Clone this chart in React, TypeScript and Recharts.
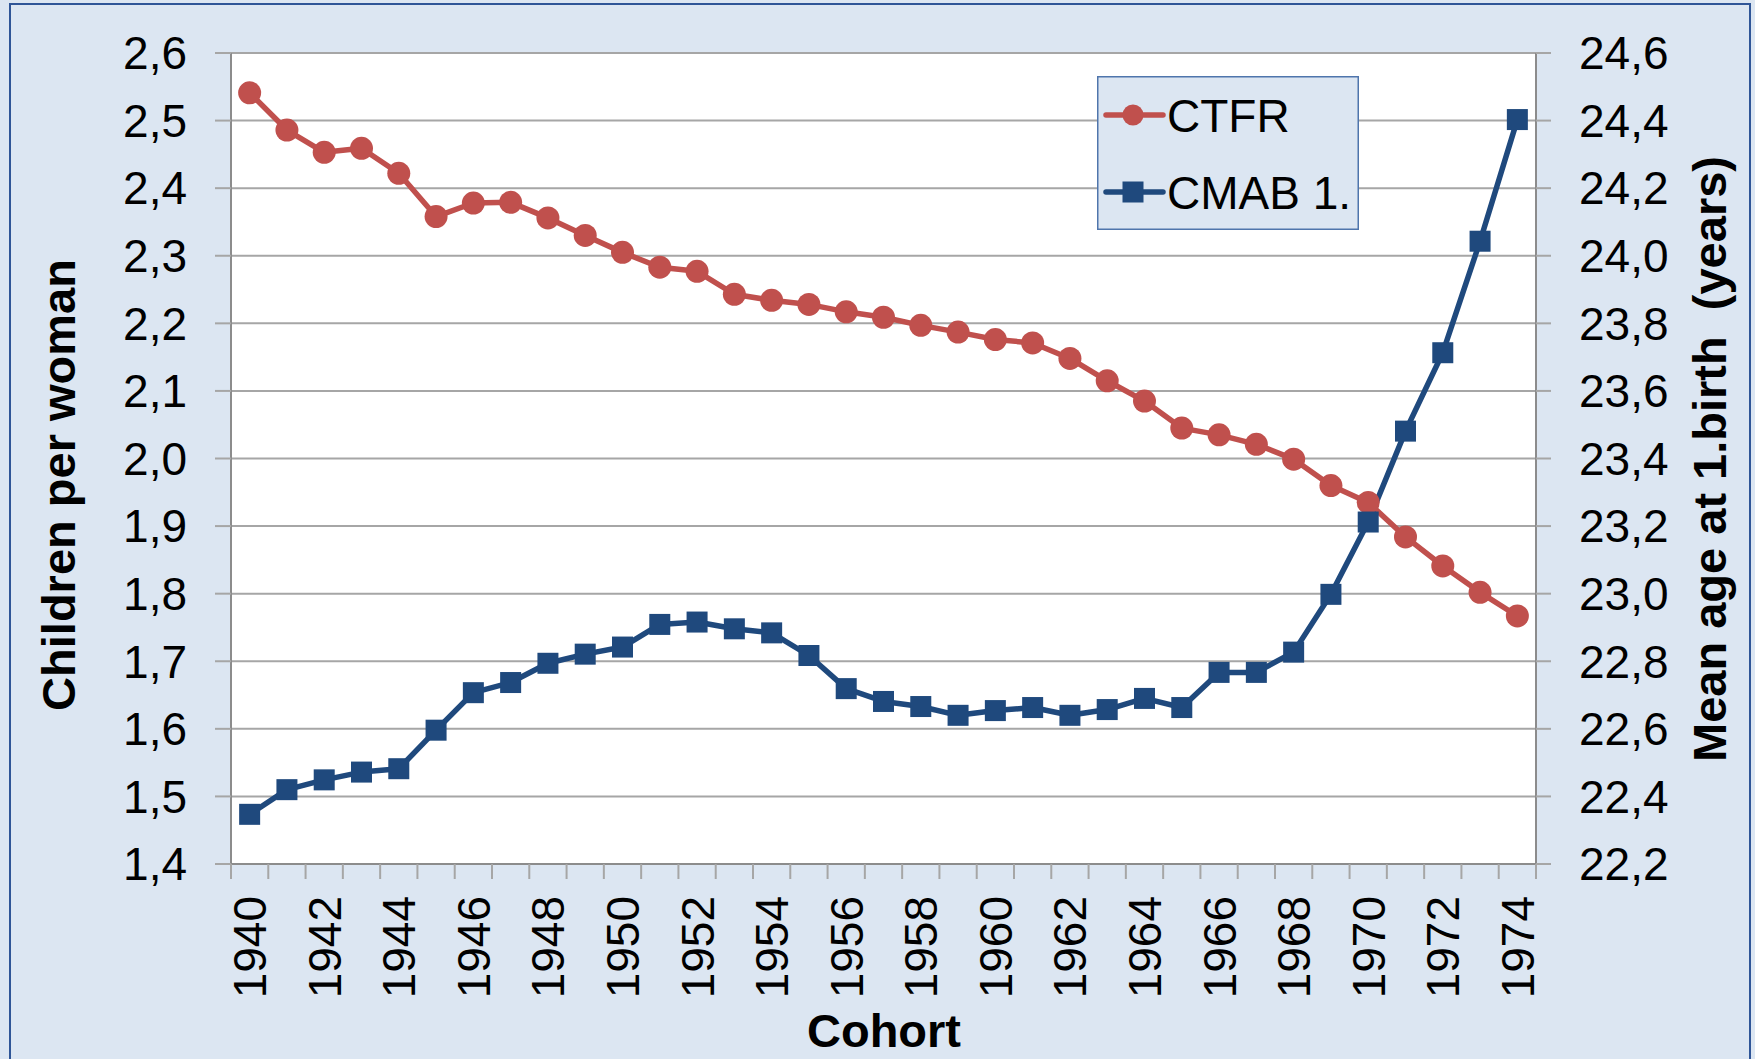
import React from 'react';
import { LineChart, Line, XAxis, YAxis, CartesianGrid, Legend, Label } from 'recharts';

const years = [1940, 1941, 1942, 1943, 1944, 1945, 1946, 1947, 1948, 1949, 1950, 1951, 1952, 1953, 1954, 1955, 1956, 1957, 1958, 1959, 1960, 1961, 1962, 1963, 1964, 1965, 1966, 1967, 1968, 1969, 1970, 1971, 1972, 1973, 1974];

const ctfr = [2.541, 2.486, 2.453, 2.459, 2.422, 2.358, 2.378, 2.379, 2.356, 2.330, 2.305, 2.283, 2.277, 2.243, 2.234, 2.228, 2.217, 2.209, 2.197, 2.187, 2.176, 2.171, 2.148, 2.115, 2.085, 2.045, 2.035, 2.021, 1.999, 1.960, 1.935, 1.884, 1.841, 1.802, 1.767];

const cmab = [22.347, 22.420, 22.449, 22.472, 22.482, 22.596, 22.707, 22.737, 22.794, 22.821, 22.842, 22.909, 22.916, 22.896, 22.884, 22.817, 22.719, 22.681, 22.666, 22.640, 22.654, 22.663, 22.640, 22.657, 22.690, 22.663, 22.767, 22.767, 22.827, 22.998, 23.212, 23.481, 23.713, 24.043, 24.403];

const leftTicks = [1.4, 1.5, 1.6, 1.7, 1.8, 1.9, 2.0, 2.1, 2.2, 2.3, 2.4, 2.5, 2.6];
const rightTicks = [22.2, 22.4, 22.6, 22.8, 23.0, 23.2, 23.4, 23.6, 23.8, 24.0, 24.2, 24.4, 24.6];

const seriesOrder = ['ctfr', 'cmab'];
const seriesNames = { ctfr: 'CTFR', cmab: 'CMAB 1.' };
const titles = { left: 'Children per woman', right: 'Mean age at 1.birth  (years)', x: 'Cohort' };

const data = years.map((y, i) => ({ year: y, ctfr: ctfr[i], cmab: cmab[i] }));

const boundaryTicks = years.map((y) => y - 0.5).concat([years[years.length - 1] + 0.5]);
const labelTicks = years.filter((y) => y % 2 === 0);
const xTicks = [...boundaryTicks, ...labelTicks].sort((a, b) => a - b);

const FONT = '"Liberation Sans", Arial, sans-serif';
const RED = '#C0504D';
const BLUE = '#1F497D';
const GRID = '#A6A6A6';
const AXIS = '#8C8C8C';
const BG = '#DCE6F2';

const fmt = (v: number) => v.toFixed(1).replace('.', ',');

const XTick = (props: any) => {
  const { x, y, payload } = props;
  const v = payload.value as number;
  if (v % 1 !== 0) {
    return <line x1={x} x2={x} y1={y} y2={y + 15} stroke={GRID} strokeWidth={2} />;
  }
  if (v % 2 === 0) {
    const tx = x + 16.5;
    const ty = y + 32;
    return (
      <text x={tx} y={ty} transform={`rotate(-90 ${tx} ${ty})`} textAnchor="end" fontSize={46} fontFamily={FONT} fill="#000">
        {v}
      </text>
    );
  }
  return null;
};

const SquareDot = (props: any) => {
  const { cx, cy, index } = props;
  if (cx == null || cy == null) return <g key={`sq-${index}`} />;
  return <rect key={`sq-${index}`} x={cx - 10.5} y={cy - 10.5} width={21} height={21} fill={BLUE} />;
};

const renderLegend = (props: any) => {
  const payload = [...(props.payload || [])].sort(
    (a: any, b: any) => seriesOrder.indexOf(a.dataKey) - seriesOrder.indexOf(b.dataKey)
  );
  return (
    <svg width={262} height={154} style={{ display: 'block' }}>
      <rect x={0.75} y={0.75} width={260.5} height={152.5} fill={BG} stroke="#4F75AC" strokeWidth={1.5} />
      {payload.map((entry: any, i: number) => {
        const cy = 39 + i * 77;
        const isCircle = entry.dataKey === 'ctfr';
        const color = entry.color;
        return (
          <g key={entry.dataKey}>
            <line x1={9} x2={66} y1={cy} y2={cy} stroke={color} strokeWidth={5.5} strokeLinecap="round" />
            {isCircle ? (
              <circle cx={36} cy={cy} r={10.5} fill={color} />
            ) : (
              <rect x={25.5} y={cy - 10.5} width={21} height={21} fill={color} />
            )}
            <text x={70} y={cy + 16.5} fontSize={46} fontFamily={FONT} fill="#000">
              {entry.value}
            </text>
          </g>
        );
      })}
    </svg>
  );
};

export default function App() {
  return (
    <div style={{ position: 'absolute', left: 0, top: 0, width: 1755, height: 1059, background: BG, overflow: 'hidden', fontFamily: FONT }}>
      <div style={{ position: 'absolute', left: 9, top: 3, width: 1742, height: 1080, border: '2px solid #2F5597', boxSizing: 'border-box' }} />
      <div style={{ position: 'absolute', left: 0, top: 0 }}>
        <LineChart width={1755} height={1059} data={data} margin={{ top: 53, right: 0, bottom: 0, left: 0 }}>
          <CartesianGrid yAxisId="left" vertical={false} stroke={GRID} strokeWidth={2} fill="#FFFFFF" fillOpacity={1} />
          <XAxis
            dataKey="year"
            type="number"
            domain={[1939.5, 1974.5]}
            ticks={xTicks}
            interval={0}
            height={195}
            tickSize={0}
            tickMargin={0}
            tickLine={false}
            axisLine={{ stroke: AXIS, strokeWidth: 2 }}
            tick={<XTick />}
          >
            <Label
              content={() => (
                <text x={884} y={1047} textAnchor="middle" fontSize={47} fontWeight="bold" fontFamily={FONT} fill="#000">
                  {titles.x}
                </text>
              )}
            />
          </XAxis>
          <YAxis
            yAxisId="left"
            orientation="left"
            domain={[1.4, 2.6]}
            ticks={leftTicks}
            interval={0}
            width={231}
            tickSize={16}
            tickMargin={28}
            tickFormatter={fmt}
            tick={{ fontSize: 46, fill: '#000', fontFamily: FONT }}
            tickLine={{ stroke: GRID, strokeWidth: 2 }}
            axisLine={{ stroke: AXIS, strokeWidth: 2 }}
          >
            <Label
              content={() => (
                <text x={75} y={485} transform="rotate(-90 75 485)" textAnchor="middle" fontSize={47} fontWeight="bold" fontFamily={FONT} fill="#000">
                  {titles.left}
                </text>
              )}
            />
          </YAxis>
          <YAxis
            yAxisId="right"
            orientation="right"
            domain={[22.2, 24.6]}
            ticks={rightTicks}
            interval={0}
            width={219}
            tickSize={15}
            tickMargin={28}
            tickFormatter={fmt}
            tick={{ fontSize: 46, fill: '#000', fontFamily: FONT }}
            tickLine={{ stroke: GRID, strokeWidth: 2 }}
            axisLine={{ stroke: AXIS, strokeWidth: 2 }}
          >
            <Label
              content={() => (
                <text x={1726} y={459} transform="rotate(-90 1726 459)" textAnchor="middle" fontSize={47} fontWeight="bold" fontFamily={FONT} fill="#000" style={{ whiteSpace: 'pre' }}>
                  {titles.right}
                </text>
              )}
            />
          </YAxis>
          <Legend
            layout="horizontal"
            verticalAlign="middle"
            align="center"
            content={renderLegend}
            wrapperStyle={{ position: 'absolute', left: 1097, top: 76, width: 262, height: 154 }}
          />
          <Line
            yAxisId="left"
            type="linear"
            dataKey="ctfr"
            name={seriesNames.ctfr}
            stroke={RED}
            strokeWidth={5.5}
            strokeLinejoin="round"
            dot={{ r: 11.5, fill: RED, stroke: RED, strokeWidth: 0 }}
            activeDot={false}
            isAnimationActive={false}
          />
          <Line
            yAxisId="right"
            type="linear"
            dataKey="cmab"
            name={seriesNames.cmab}
            stroke={BLUE}
            strokeWidth={5.5}
            strokeLinejoin="round"
            dot={<SquareDot />}
            activeDot={false}
            isAnimationActive={false}
          />
        </LineChart>
      </div>
    </div>
  );
}
